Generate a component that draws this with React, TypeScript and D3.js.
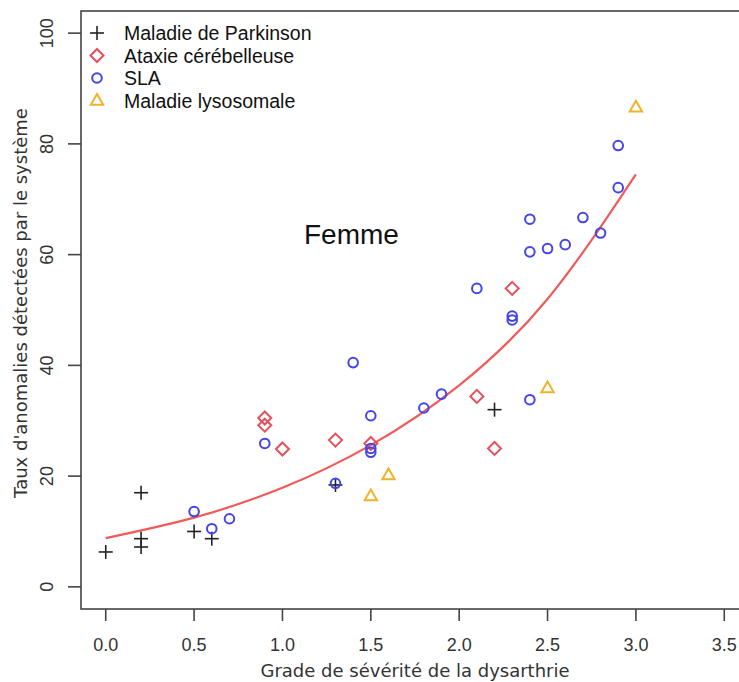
import React from "react";
import * as d3 from "d3";

const parkinsonX = [0, 0.2, 0.2, 0.2, 0.5, 0.6, 1.3, 2.2];
const parkinsonY = [6.3, 17, 8.7, 7.2, 10, 8.7, 18.4, 32];

const ataxieX = [0.9, 0.9, 1.0, 1.3, 1.5, 2.1, 2.2, 2.3];
const ataxieY = [30.5, 29.2, 24.9, 26.5, 25.9, 34.4, 25.0, 53.9];

const slaX = [0.5, 0.6, 0.7, 0.9, 1.3, 1.4, 1.5, 1.5, 1.5, 1.8, 1.9, 2.1, 2.3, 2.3, 2.4, 2.4, 2.4, 2.5, 2.6, 2.7, 2.8, 2.9, 2.9];
const slaY = [13.6, 10.5, 12.3, 25.9, 18.7, 40.5, 30.9, 25.0, 24.3, 32.3, 34.8, 53.9, 48.9, 48.2, 33.8, 66.4, 60.5, 61.1, 61.8, 66.7, 63.9, 72.1, 79.7];

const lysoX = [1.5, 1.6, 2.5, 3.0];
const lysoY = [16.4, 20.2, 35.9, 86.6];

// fitted trend curve
const curveX = [0, 0.5, 1.0, 1.5, 2.0, 2.5, 3.0];
const curveY = [8.8, 12.5, 17.9, 25.6, 36.4, 52.0, 74.5];

const xTicks = [0, 0.5, 1, 1.5, 2, 2.5, 3, 3.5];
const yTicks = [0, 20, 40, 60, 80, 100];

const legendLabels = ["Maladie de Parkinson", "Ataxie cérébelleuse", "SLA", "Maladie lysosomale"];
const annotation = "Femme";
const xTitle = "Grade de sévérité de la dysarthrie";
const yTitle = "Taux d'anomalies détectées par le système";

const W = 739;
const H = 682;
const box = { left: 81, top: 11, right: 749, bottom: 609 };

const C_BLACK = "#222222";
const C_RED = "#e5505a";
const C_BLUE = "#4444e8";
const C_YEL = "#f0b22a";
const C_CURVE = "#f05a5a";

function Plus({ x, y, c }: { x: number; y: number; c: string }) {
  const s = 7;
  return (
    <g stroke={c} strokeWidth={1.6}>
      <line x1={x - s} x2={x + s} y1={y} y2={y} />
      <line x1={x} x2={x} y1={y - s} y2={y + s} />
    </g>
  );
}
function Diamond({ x, y, c }: { x: number; y: number; c: string }) {
  const s = 6.5;
  return (
    <path d={`M${x},${y - s}L${x + s},${y}L${x},${y + s}L${x - s},${y}Z`} fill="none" stroke={c} strokeWidth={2} />
  );
}
function Circle({ x, y, c }: { x: number; y: number; c: string }) {
  return <circle cx={x} cy={y} r={4.8} fill="none" stroke={c} strokeWidth={2} />;
}
function Tri({ x, y, c }: { x: number; y: number; c: string }) {
  const s = 6.5;
  return (
    <path
      d={`M${x},${y - s}L${x + s * 0.95},${y + s * 0.65}L${x - s * 0.95},${y + s * 0.65}Z`}
      fill="none"
      stroke={c}
      strokeWidth={2}
    />
  );
}

export default function App() {
  const x = d3.scaleLinear().domain([-0.14, 3.64]).range([box.left, box.right]);
  const y = d3.scaleLinear().domain([-4, 104]).range([box.bottom, box.top]);

  const line = d3
    .line<number>()
    .x((_, i) => x(curveX[i]))
    .y((d) => y(d))
    .curve(d3.curveNatural);

  const tickFont = "'Liberation Sans', Arial, sans-serif";
  const titleFont = "'DejaVu Sans', sans-serif";

  const legendX = 97;
  const legendTextX = 124;
  const legendY0 = 33;
  const legendDy = 22.5;

  return (
    <svg
      width={W}
      height={H}
      viewBox={`0 0 ${W} ${H}`}
      style={{ position: "absolute", left: 0, top: 0, background: "#fff" }}
    >
      <rect x={0} y={0} width={W} height={H} fill="#fff" />
      {/* plot box */}
      <rect
        x={box.left}
        y={box.top}
        width={box.right - box.left}
        height={box.bottom - box.top}
        fill="none"
        stroke="#444"
        strokeWidth={1.6}
      />
      {/* x axis */}
      {xTicks.map((t) => (
        <g key={"xt" + t}>
          <line x1={x(t)} x2={x(t)} y1={box.bottom} y2={box.bottom + 12} stroke="#444" strokeWidth={1.6} />
          <text x={x(t)} y={651} textAnchor="middle" fontFamily={tickFont} fontSize={18} fill="#333">
            {d3.format(".1f")(t)}
          </text>
        </g>
      ))}
      {/* y axis */}
      {yTicks.map((t) => (
        <g key={"yt" + t}>
          <line x1={box.left} x2={box.left - 13} y1={y(t)} y2={y(t)} stroke="#444" strokeWidth={1.6} />
          <text
            transform={`translate(53,${y(t)}) rotate(-90)`}
            textAnchor="middle"
            fontFamily={tickFont}
            fontSize={18}
            fill="#333"
          >
            {t}
          </text>
        </g>
      ))}
      <text x={(box.left + box.right) / 2} y={677} textAnchor="middle" fontFamily={titleFont} fontSize={18} fill="#333">
        {xTitle}
      </text>
      <text
        transform={`translate(27,${(box.top + box.bottom) / 2 - 7}) rotate(-90)`}
        textAnchor="middle"
        fontFamily={titleFont}
        fontSize={18}
        fill="#333"
      >
        {yTitle}
      </text>

      {/* trend curve */}
      <path d={line(curveY) || ""} fill="none" stroke={C_CURVE} strokeWidth={2.2} />

      {/* points */}
      {parkinsonX.map((v, i) => (
        <Plus key={"p" + i} x={x(v)} y={y(parkinsonY[i])} c={C_BLACK} />
      ))}
      {ataxieX.map((v, i) => (
        <Diamond key={"a" + i} x={x(v)} y={y(ataxieY[i])} c={C_RED} />
      ))}
      {slaX.map((v, i) => (
        <Circle key={"s" + i} x={x(v)} y={y(slaY[i])} c={C_BLUE} />
      ))}
      {lysoX.map((v, i) => (
        <Tri key={"l" + i} x={x(v)} y={y(lysoY[i])} c={C_YEL} />
      ))}

      {/* legend */}
      <Plus x={legendX} y={legendY0} c={C_BLACK} />
      <Diamond x={legendX} y={legendY0 + legendDy} c={C_RED} />
      <Circle x={legendX} y={legendY0 + legendDy * 2} c={C_BLUE} />
      <Tri x={legendX} y={legendY0 + legendDy * 3} c={C_YEL} />
      {legendLabels.map((l, i) => (
        <text
          key={l}
          x={legendTextX}
          y={legendY0 + legendDy * i + 7}
          fontFamily={tickFont}
          fontSize={19.5}
          fill="#111"
        >
          {l}
        </text>
      ))}

      <text x={304} y={244} fontFamily={tickFont} fontSize={28} fill="#111">
        {annotation}
      </text>
    </svg>
  );
}
